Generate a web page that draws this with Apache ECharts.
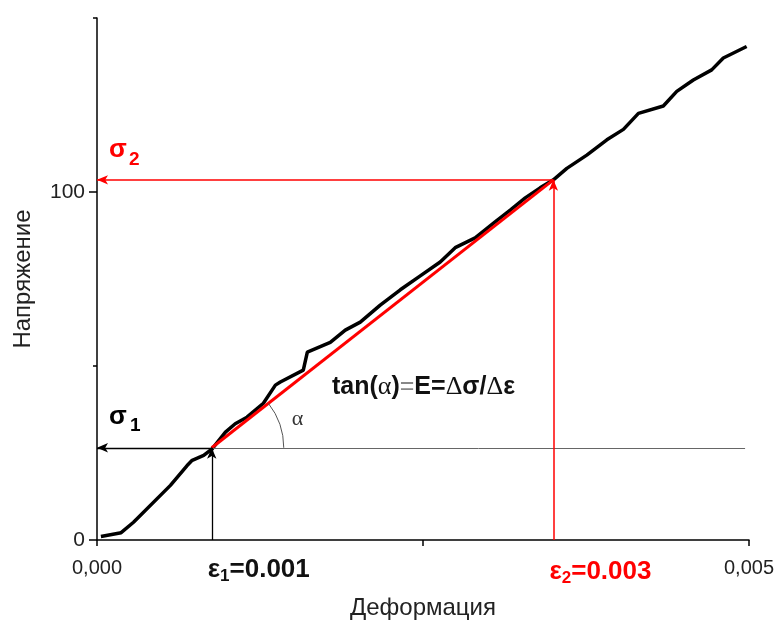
<!DOCTYPE html>
<html>
<head>
<meta charset="utf-8">
<script src="https://cdn.jsdelivr.net/npm/echarts@6/dist/echarts.min.js"></script>
<style>html,body{margin:0;padding:0;background:#fff}#c{width:775px;height:621px}</style>
</head>
<body>
<div id="c"></div>
<script>
// ---- data ----
const strain = [0.00003,0.000185,0.00028,0.000563,0.000691,0.00073,0.000818,0.000883,0.000985,0.00106,0.00115,0.001276,0.001368,0.001406,0.001582,0.001613,0.001789,0.001904,0.002019,0.002172,0.002326,0.002479,0.002632,0.002747,0.0029,0.003053,0.003169,0.003284,0.003398,0.0035,0.003603,0.003756,0.00391,0.004037,0.004152,0.004343,0.004446,0.004573,0.004714,0.004803,0.004982];
const stress = [1.0,2.1,5.1,15.7,21.4,22.9,24.3,26.2,31.0,33.4,35.3,39.3,44.5,45.4,48.8,54.0,56.8,60.3,62.6,67.5,71.9,75.9,79.9,84.0,86.8,91.4,94.8,98.3,101.2,103.5,106.8,110.6,115.0,118.0,122.6,124.7,128.9,132.2,135.1,138.5,141.8];
const eps1 = 0.00088, sig1 = 26.5;   // point 1 (as drawn)
const eps2 = 0.0035,  sig2 = 103.5;  // point 2 (as drawn)
const xLabelValues = [0, 0.005];
const xTickValues = [0, 0.0025, 0.005];
const yLabelValues = [0, 100];
const yMinorTickValues = [50, 150];
const xEnd = 0.00497;

const chart = echarts.init(document.getElementById('c'), null, {renderer: 'canvas'});
const FONT = 'Liberation Sans, Arial, sans-serif';

function arrowLine(p1, p2, color, width) {
  return [
    {coord: p1, symbol: 'none', lineStyle: {color: color, width: width, type: 'solid'}},
    {coord: p2, symbol: 'arrow', symbolSize: [7, 11]}
  ];
}

const option = {
  animation: false,
  backgroundColor: '#fff',
  grid: {left: 97, right: 26, top: 18, bottom: 81, containLabel: false, outerBoundsMode: 'none'},
  xAxis: {
    type: 'value', min: 0, max: 0.005, interval: 0.0025,
    axisLine: {show: true, lineStyle: {color: '#000', width: 1.5}},
    axisTick: {show: true, length: 6, customValues: xTickValues, lineStyle: {color: '#000', width: 1.5}},
    axisLabel: {customValues: xLabelValues, formatter: v => v.toFixed(3).replace('.', ','), color: '#222', fontSize: 20, fontFamily: FONT, margin: 18},
    splitLine: {show: false},
    name: 'Деформация', nameLocation: 'middle', nameGap: 56,
    nameTextStyle: {fontSize: 24, color: '#222', fontFamily: FONT}
  },
  yAxis: [{
    type: 'value', min: 0, max: 150, interval: 50,
    axisLine: {show: true, onZero: false, lineStyle: {color: '#000', width: 1.5}},
    axisTick: {show: true, length: 8, customValues: yLabelValues, lineStyle: {color: '#000', width: 1.5}},
    axisLabel: {customValues: yLabelValues, color: '#222', fontSize: 21, fontFamily: FONT, margin: 12},
    splitLine: {show: false},
    name: 'Напряжение', nameLocation: 'middle', nameGap: 62,
    nameTextStyle: {fontSize: 24, color: '#222', fontFamily: FONT}
  }, {
    type: 'value', min: 0, max: 150, interval: 50, position: 'left',
    axisLine: {show: false},
    axisTick: {show: true, length: 4, customValues: yMinorTickValues, lineStyle: {color: '#000', width: 1.5}},
    axisLabel: {show: false},
    splitLine: {show: false}
  }],
  series: [
    {
      type: 'line', name: 'curve', data: strain.map((x, i) => [x, stress[i]]),
      symbol: 'none', lineStyle: {color: '#000', width: 3.5}, z: 3, silent: true
    },
    {
      type: 'line', name: 'secant', data: [[eps1, sig1], [eps2, sig2]],
      symbol: 'none', lineStyle: {color: '#ff0000', width: 3}, z: 4, silent: true
    },
    {
      type: 'line', name: 'helpers', data: [[0, 0]], symbol: 'none', lineStyle: {opacity: 0}, z: 2,
      markLine: {
        silent: true, animation: false, label: {show: false},
        data: [
          [{coord: [eps1, sig1], symbol: 'none', lineStyle: {color: '#666', width: 1, type: 'solid'}}, {coord: [xEnd, sig1], symbol: 'none'}],
          arrowLine([eps1, sig1], [0, sig1], '#000', 1.3),
          arrowLine([eps1, 0], [eps1, sig1], '#000', 1.3),
          arrowLine([eps2, 0], [eps2, sig2], '#ff0000', 1.5),
          arrowLine([eps2, sig2], [0, sig2], '#ff0000', 1.5)
        ]
      }
    }
  ]
};
chart.setOption(option);

// annotations positioned from data
const p1 = chart.convertToPixel({gridIndex: 0}, [eps1, sig1]);
const p2 = chart.convertToPixel({gridIndex: 0}, [eps2, sig2]);
const ang = Math.atan2(p1[1] - p2[1], p2[0] - p1[0]);
const base = chart.convertToPixel({gridIndex: 0}, [0, 0]);

chart.setOption({
  graphic: [
    {type: 'arc', shape: {cx: p1[0], cy: p1[1], r: 72, startAngle: -ang, endAngle: 0, clockwise: true},
     style: {stroke: '#555', lineWidth: 1, fill: null}, z: 5},
    {type: 'text', x: p1[0] + 80, y: p1[1] - 40,
     style: {text: 'α', font: '22px "Liberation Serif", serif', fill: '#333'}, z: 5},
    // formula
    {type: 'text', x: 332, y: 374,
     style: {
       text: '{b|tan(}{s|α}{b|)}{g|=}{b|E=}{s|Δ}{b|σ/}{s|Δ}{b|ε}',
       rich: {
         b: {font: 'bold 25px "Liberation Sans", Arial', fill: '#111'},
         s: {font: '26px "Liberation Serif", serif', fill: '#111'},
         g: {font: '25px "Liberation Sans", Arial', fill: '#888'}
       }
     }, z: 5},
    // sigma 1
    {type: 'text', x: 109, y: 404, style: {text: 'σ', font: 'bold 26px "Liberation Sans", Arial', fill: '#000'}, z: 5},
    {type: 'text', x: 130, y: 416, style: {text: '1', font: 'bold 19px "Liberation Sans", Arial', fill: '#000'}, z: 5},
    // sigma 2
    {type: 'text', x: 109, y: 137, style: {text: 'σ', font: 'bold 26px "Liberation Sans", Arial', fill: '#ff0000'}, z: 5},
    {type: 'text', x: 129, y: 150, style: {text: '2', font: 'bold 19px "Liberation Sans", Arial', fill: '#ff0000'}, z: 5},
    // epsilon labels
    {type: 'text', x: p1[0] - 4, y: base[1] + 15,
     style: {text: '{e|ε}{s|1}{e|=0.001}', rich: {
       e: {font: 'bold 26px "Liberation Sans", Arial', fill: '#111'},
       s: {font: 'bold 17px "Liberation Sans", Arial', fill: '#111', padding: [13, 0, 0, 0]}
     }}, z: 5},
    {type: 'text', x: p2[0] - 4, y: base[1] + 17,
     style: {text: '{e|ε}{s|2}{e|=0.003}', rich: {
       e: {font: 'bold 26px "Liberation Sans", Arial', fill: '#ff0000'},
       s: {font: 'bold 17px "Liberation Sans", Arial', fill: '#ff0000', padding: [13, 0, 0, 0]}
     }}, z: 5}
  ]
});
</script>
</body>
</html>
